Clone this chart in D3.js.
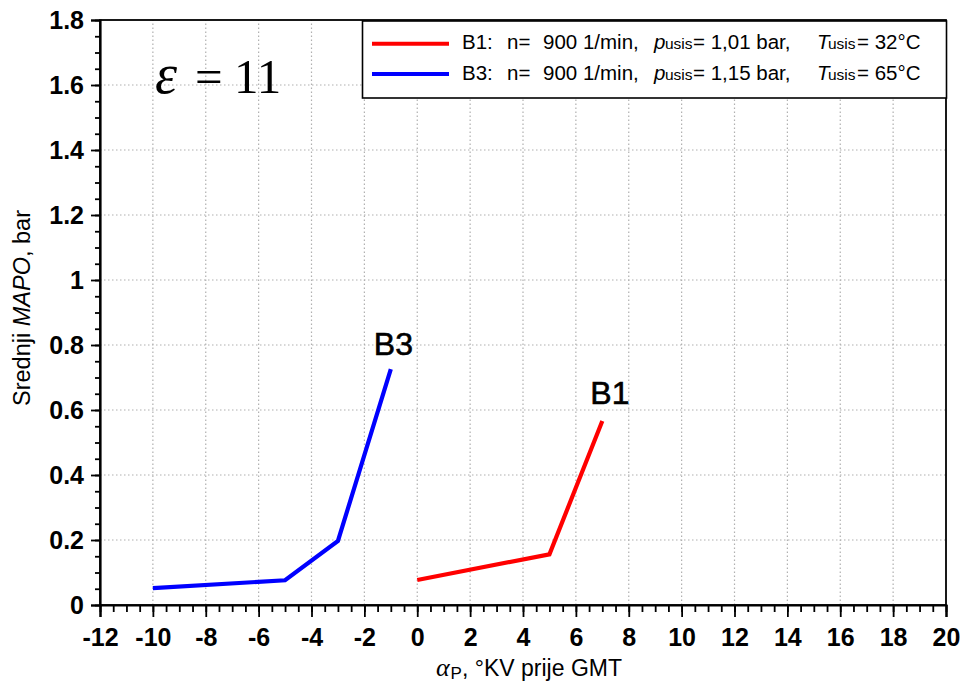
<!DOCTYPE html>
<html><head><meta charset="utf-8">
<script src="https://cdn.jsdelivr.net/npm/d3@7"></script>
<style>body{margin:0;background:#fff} svg{display:block}</style>
</head><body><svg id="c" width="965" height="686"></svg>
<script>
// ---- data ----
const b1X = [0, 5, 7];
const b1Y = [0.077, 0.156, 0.566];
const b3X = [-10, -5, -3, -1];
const b3Y = [0.052, 0.076, 0.197, 0.726];
const xTickValues = [-12,-10,-8,-6,-4,-2,0,2,4,6,8,10,12,14,16,18,20];
const yTickValues = [0,0.2,0.4,0.6,0.8,1,1.2,1.4,1.6,1.8];
const yTickLabels = ["0","0.2","0.4","0.6","0.8","1","1.2","1.4","1.6","1.8"];
const seriesNames = ["B1","B3"];
const seriesColors = ["#ff0000","#0000ff"];
const legendN = ["900","900"];
const legendP = ["1,01","1,15"];
const legendT = ["32","65"];

const svg = d3.select("#c");
const x = d3.scaleLinear().domain([-12,20]).range([100,946]);
const y = d3.scaleLinear().domain([0,1.8]).range([605,20]);
const SANS = "'Liberation Sans', Arial, sans-serif";
const SERIF = "'Liberation Serif', 'Times New Roman', serif";

// grid
const grid = svg.append("g").attr("stroke","#b0b0b0").attr("stroke-width",1.2).attr("stroke-dasharray","1.5,2.5");
grid.selectAll("line.v").data(xTickValues.filter(v=>v>-12 && v<20)).enter().append("line")
  .attr("x1",d=>x(d)).attr("x2",d=>x(d)).attr("y1",y(0)).attr("y2",y(1.8));
grid.selectAll("line.h").data(yTickValues.filter(v=>v>0 && v<1.8)).enter().append("line")
  .attr("y1",d=>y(d)).attr("y2",d=>y(d)).attr("x1",x(-12)).attr("x2",x(20));

// frame
svg.append("rect").attr("x",x(-12)).attr("y",y(1.8)).attr("width",x(20)-x(-12)).attr("height",y(0)-y(1.8))
  .attr("fill","none").attr("stroke","#000").attr("stroke-width",1.8);

// x axis minor
const minorX = d3.range(-12,20.001,0.5);
svg.append("g").attr("transform",`translate(0,${y(0)})`)
  .call(d3.axisBottom(x).tickValues(minorX).tickSize(7).tickFormat(""))
  .call(g=>{g.select(".domain").remove(); g.selectAll("line").attr("stroke-width",1.8);});
// x axis major
svg.append("g").attr("transform",`translate(0,${y(0)})`)
  .call(d3.axisBottom(x).tickValues(xTickValues).tickSize(12).tickPadding(11).tickFormat(d3.format("d")))
  .call(g=>{g.select(".domain").attr("stroke-width",2.2);
    g.selectAll("line").attr("stroke-width",1.8);
    g.selectAll("text").attr("font-family",SANS).attr("font-size",25).attr("font-weight","bold").attr("fill","#000")
      .text(d=>d<0?"-"+Math.abs(d):d);});

// y axis minor
const minorY = d3.range(0,1.8001,0.05);
svg.append("g").attr("transform",`translate(${x(-12)},0)`)
  .call(d3.axisLeft(y).tickValues(minorY).tickSize(5).tickFormat(""))
  .call(g=>{g.select(".domain").remove(); g.selectAll("line").attr("stroke-width",1.8);});
svg.append("g").attr("transform",`translate(${x(-12)},0)`)
  .call(d3.axisLeft(y).tickValues(yTickValues).tickSize(9).tickPadding(7).tickFormat((d,i)=>yTickLabels[i]))
  .call(g=>{g.select(".domain").attr("stroke-width",2.2);
    g.selectAll("line").attr("stroke-width",1.8);
    g.selectAll("text").attr("font-family",SANS).attr("font-size",25).attr("font-weight","bold").attr("fill","#000");});

// series lines
const line = d3.line().x(d=>x(d[0])).y(d=>y(d[1]));
const seriesData = [d3.zip(b1X,b1Y), d3.zip(b3X,b3Y)];
seriesData.forEach((pts,i)=>{
  svg.append("path").datum(pts).attr("d",line).attr("fill","none")
    .attr("stroke",seriesColors[i]).attr("stroke-width",4.2).attr("stroke-linejoin","miter");
});

// series labels
const lastB1 = seriesData[0][seriesData[0].length-1];
const lastB3 = seriesData[1][seriesData[1].length-1];
svg.append("text").attr("x",x(lastB3[0])-17).attr("y",y(lastB3[1])-14)
  .attr("font-family",SANS).attr("font-size",32).attr("stroke","#000").attr("stroke-width",0.6).text(seriesNames[1]);
svg.append("text").attr("x",x(lastB1[0])-12).attr("y",y(lastB1[1])-17)
  .attr("font-family",SANS).attr("font-size",32).attr("stroke","#000").attr("stroke-width",0.6).text(seriesNames[0]);

// epsilon label
const eps = svg.append("text").attr("y",93).attr("font-family",SERIF).attr("font-size",49).attr("fill","#000");
eps.append("tspan").attr("x",155).attr("font-style","italic").attr("font-size",56).text("ε");
eps.append("tspan").attr("x",195).text("=");
eps.append("tspan").attr("x",234).text("11");

// legend
const lg = svg.append("g");
lg.append("rect").attr("x",362.5).attr("y",21).attr("width",584).attr("height",77)
  .attr("fill","#fff").attr("stroke","#000").attr("stroke-width",1.6);
const rowLineY = [43.7,74];
const rowBase = [48.7,79.7];
seriesNames.forEach((nm,i)=>{
  lg.append("line").attr("x1",372).attr("x2",449).attr("y1",rowLineY[i]).attr("y2",rowLineY[i])
    .attr("stroke",seriesColors[i]).attr("stroke-width",4);
  const t = lg.append("text").attr("y",rowBase[i]).attr("font-family",SANS).attr("font-size",20.5).attr("fill","#000");
  t.append("tspan").attr("x",462).text(nm+":");
  t.append("tspan").attr("x",507).text("n=");
  t.append("tspan").attr("x",543).text(legendN[i]+" 1/min,");
  t.append("tspan").attr("x",654).attr("font-style","italic").text("p");
  t.append("tspan").attr("x",665).attr("font-size",15.5).text("usis");
  t.append("tspan").attr("x",693).text("= "+legendP[i]+" bar,");
  t.append("tspan").attr("x",817).attr("font-style","italic").text("T");
  t.append("tspan").attr("x",828).attr("font-size",15.5).text("usis");
  t.append("tspan").attr("x",857).text("= "+legendT[i]+"°C");
});

// y axis title
const yt = svg.append("text").attr("transform","translate(30,308) rotate(-90)").attr("text-anchor","middle")
  .attr("font-family",SANS).attr("font-size",23.5).attr("fill","#000");
yt.append("tspan").text("Srednji ");
yt.append("tspan").attr("font-style","italic").text("MAPO");
yt.append("tspan").text(", bar");

// x axis title
const xt = svg.append("text").attr("y",676).attr("font-family",SANS).attr("font-size",23).attr("fill","#000");
xt.append("tspan").attr("x",436).attr("font-family",SERIF).attr("font-style","italic").attr("font-size",26).text("α");
xt.append("tspan").attr("x",450.5).attr("y",678.5).attr("font-size",17).text("P");
xt.append("tspan").attr("x",462).attr("y",676).text(", °KV prije GMT");
</script></body></html>
